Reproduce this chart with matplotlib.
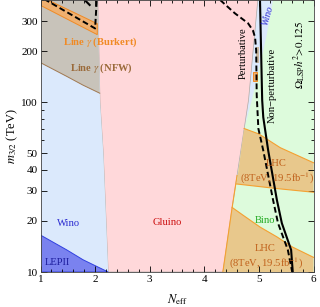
import matplotlib
matplotlib.use("Agg")
import matplotlib.pyplot as plt
from matplotlib.ticker import FixedLocator, NullFormatter

plt.rcParams['font.family'] = ['Liberation Serif', 'DejaVu Serif']
plt.rcParams['mathtext.fontset'] = 'stix'

# ---- data (N_eff, m_3/2 in TeV) ----
# wino / gluino boundary
left_N = [2.05, 2.09, 2.15, 2.24]
left_m = [400, 100, 50, 10]
# gluino / bino boundary
right_N = [4.98, 4.81, 4.60, 4.51, 4.34]
right_m = [400, 103, 37, 24, 10]
# narrow wino band on the right
wino2_N = [5.26, 5.15, 5.08, 4.87, 4.73]
wino2_m = [400, 255, 202, 103, 70]
# line gamma (NFW) lower edge
nfw_N = [1.0, 1.48, 1.78, 2.085]
nfw_m = [171, 142, 126, 113]
# small NFW patch near the perturbative line
nfw2_N = [4.95, 5.01, 5.01, 4.95]
nfw2_m = [170, 170, 211, 211]
# line gamma (Burkert) band
burk_up_N = [1.0, 2.04]
burk_up_m = [420, 290]
burk_lo_N = [2.04, 1.0]
burk_lo_m = [250, 372]
# small Burkert patch
burk2_N = [4.89, 4.97, 4.97, 4.89]
burk2_m = [134, 134, 150, 150]
# LHC upper region
lhc1_top_N = [4.73, 5.0, 5.39, 6.0]
lhc1_top_m = [70, 65, 54, 44]
lhc1_bot_N = [6.0, 5.33, 4.59]
lhc1_bot_m = [29.5, 31, 33]
# LHC lower region
lhc2_top_N = [4.51, 4.71, 5.02, 5.33, 5.62, 6.0]
lhc2_top_m = [24, 21.6, 18.4, 16.1, 14.0, 12.2]
# LEPII
lep_N = [1.0, 1.48, 1.78, 2.24]
lep_m = [16.5, 13.5, 11.8, 10]
# perturbative (dashed) and non-perturbative (solid) lines
dash_N = [4.29, 4.56, 4.80, 4.89, 4.93, 4.95, 4.96, 4.99, 5.08, 5.26, 5.35, 5.53, 5.61]
dash_m = [400, 334, 292, 265, 241, 202, 110, 70, 52, 26.5, 19.4, 13.5, 10]
solid_N = [5.02, 5.04, 5.06, 5.08, 5.17, 5.33, 5.42, 5.59, 5.62]
solid_m = [400, 202, 103, 81.6, 52, 26.5, 19.4, 13.5, 10]
dash2_N = [1.04, 2.0, 2.03]
dash2_m = [410, 272, 400]
solid2_N = [1.81, 1.90]
solid2_m = [400, 374]

xticks = [1, 2, 3, 4, 5, 6]
yticks = [10, 20, 30, 40, 50, 100, 200, 300]

c_blue = '#dbe9fc'
c_pink = '#ffd8da'
c_green = '#ddfbdc'
c_grey = '#c8c3ba'
c_burk = '#efb070'
c_lhc = '#e8c88c'
c_lep = '#7a82ef'

fig = plt.figure(figsize=(3.2, 3.07), dpi=100)
ax = fig.add_axes([40.5 / 320, 35 / 307, 273 / 320, 272 / 307])
ax.set_yscale('log')
ax.set_xlim(1, 6)
ax.set_ylim(10, 400)
ax.set_facecolor(c_green)

# wino sliver on the right
ax.fill(wino2_N + [right_N[1], right_N[0]], wino2_m + [right_m[1], right_m[0]],
        color=c_blue, lw=0)
# gluino
ax.fill(left_N + right_N[::-1], left_m + right_m[::-1], color=c_pink,
        ec='#b0a8a8', lw=0.5)
# wino left
ax.fill([1.0] + left_N + [1.0], [400] + left_m + [10], color=c_blue, lw=0)
# line gamma NFW
ax.fill(nfw_N + [left_N[0], 1.0], nfw_m + [left_m[0], 400], color=c_grey, lw=0)
ax.plot(nfw_N, nfw_m, color='#a07850', lw=0.7)
ax.fill(nfw2_N, nfw2_m, color='#c9b8a0', lw=0)
# line gamma Burkert
ax.fill(burk_up_N + burk_lo_N, burk_up_m + burk_lo_m, color=c_burk,
        ec='#f08a24', lw=0.7)
ax.fill(burk2_N, burk2_m, color=c_burk, ec='#f08a24', lw=0.7)
# LHC regions
ax.fill(lhc1_top_N + lhc1_bot_N, lhc1_top_m + lhc1_bot_m, color=c_lhc, lw=0)
ax.plot(lhc1_top_N, lhc1_top_m, color='#f5a030', lw=0.8)
ax.plot(lhc1_bot_N, lhc1_bot_m, color='#f5a030', lw=0.8)
ax.fill(lhc2_top_N + [6.0, right_N[-1]], lhc2_top_m + [10, 10], color=c_lhc,
        lw=0)
ax.plot(lhc2_top_N, lhc2_top_m, color='#f5a030', lw=0.8)
ax.plot(right_N[2:], right_m[2:], color='#f5a030', lw=0.8)
# LEPII
ax.fill(lep_N + [1.0], lep_m + [10], color=c_lep, ec='#3040e0', lw=0.7)

# lines
ax.plot(dash_N, dash_m, color='k', lw=1.4, ls=(0, (3, 1.6)))
ax.plot(solid_N, solid_m, color='k', lw=1.5)
ax.plot(dash2_N, dash2_m, color='k', lw=1.4, ls=(0, (3, 1.6)))
ax.plot(solid2_N, solid2_m, color='k', lw=1.5)

# labels
fs = 7.6
ax.text(2.10, 225, r'Line $\gamma$ (Burkert)', color='#f08a24', fontsize=fs,
        fontweight='bold', ha='center', va='center')
ax.text(2.11, 158, r'Line $\gamma$ (NFW)', color='#9a6a3a', fontsize=fs,
        fontweight='bold', ha='center', va='center')
ax.text(1.51, 19.4, 'Wino', color='#2a2ad0', fontsize=fs, ha='center', va='center')
ax.text(1.30, 11.3, 'LEPII', color='#1c1c9c', fontsize=fs, ha='center', va='center')
ax.text(3.32, 19.7, 'Gluino', color='#cc1111', fontsize=fs, ha='center', va='center')
ax.text(5.11, 20, 'Bino', color='#22aa22', fontsize=fs, ha='center', va='center')
ax.text(5.31, 43.8, 'LHC', color='#c0601a', fontsize=fs, ha='center', va='center')
ax.text(5.33, 35.7, '(8TeV, 19.5fb$^{-1}$)', color='#c0601a', fontsize=fs,
        ha='center', va='center', clip_on=True)
ax.text(5.11, 13.7, 'LHC', color='#c0601a', fontsize=fs, ha='center', va='center')
ax.text(5.13, 11.3, '(8TeV, 19.5fb$^{-1}$)', color='#c0601a', fontsize=fs,
        ha='center', va='center', clip_on=True)
ax.text(4.71, 194, 'Perturbative', fontsize=fs, rotation=90, ha='center', va='center')
ax.text(5.24, 126, 'Non\u2212perturbative', fontsize=fs, rotation=90,
        ha='center', va='center')
ax.text(5.75, 189, r'$\Omega_{\rm LSP}h^2\!>\!0.125$', fontsize=8, rotation=90,
        ha='center', va='center')
ax.text(5.17, 325, 'Wino', color='#2a2ad0', fontsize=7, rotation=74,
        ha='center', va='center', style='italic')

ax.set_xticks(xticks)
ax.xaxis.set_minor_locator(FixedLocator([1 + 0.2 * i for i in range(26)]))
ax.yaxis.set_major_locator(FixedLocator(yticks))
ax.set_yticklabels([str(v) for v in yticks])
ax.yaxis.set_minor_locator(FixedLocator([60, 70, 80, 90, 400]))
ax.yaxis.set_minor_formatter(NullFormatter())
ax.tick_params(which='both', direction='in', top=True, right=True,
               labelsize=8, pad=2, width=0.6)
ax.tick_params(which='major', length=4)
ax.tick_params(which='minor', length=2)
for s in ax.spines.values():
    s.set_linewidth(0.6)
    s.set_color('#444444')

ax.set_xlabel(r'$N_{\rm eff}$', fontsize=9, labelpad=6)
ax.set_ylabel(r'$m_{3/2}$ (TeV)', fontsize=9, labelpad=1)

fig.savefig('out.png', dpi=100)
